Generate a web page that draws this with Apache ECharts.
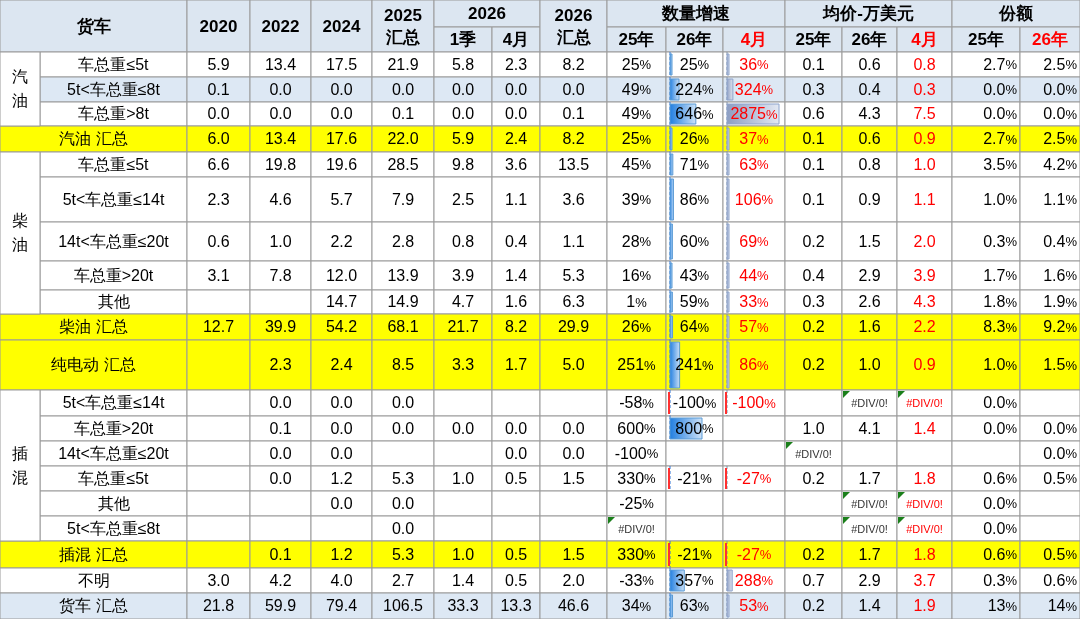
<!DOCTYPE html>
<html><head><meta charset="utf-8">
<script src="https://cdn.jsdelivr.net/npm/echarts@6/dist/echarts.min.js"></script>
<style>html,body{margin:0;padding:0;background:#fff}#c{width:1080px;height:619px}</style>
</head><body><div id="c"></div>
<script>
// ---- data ----
const rowLabels = ['车总重≤5t','5t<车总重≤8t','车总重>8t','汽油 汇总','车总重≤5t','5t<车总重≤14t','14t<车总重≤20t','车总重>20t','其他','柴油 汇总','纯电动 汇总','5t<车总重≤14t','车总重>20t','14t<车总重≤20t','车总重≤5t','其他','5t<车总重≤8t','插混 汇总','不明','货车 汇总'];
const vol2020 = ['5.9','0.1','0.0','6.0','6.6','2.3','0.6','3.1','','12.7','','','','','','','','','3.0','21.8'];
const vol2022 = ['13.4','0.0','0.0','13.4','19.8','4.6','1.0','7.8','','39.9','2.3','0.0','0.1','0.0','0.0','','','0.1','4.2','59.9'];
const vol2024 = ['17.5','0.0','0.0','17.6','19.6','5.7','2.2','12.0','14.7','54.2','2.4','0.0','0.0','0.0','1.2','0.0','','1.2','4.0','79.4'];
const vol2025 = ['21.9','0.0','0.1','22.0','28.5','7.9','2.8','13.9','14.9','68.1','8.5','0.0','0.0','','5.3','0.0','0.0','5.3','2.7','106.5'];
const vol2026Q1 = ['5.8','0.0','0.0','5.9','9.8','2.5','0.8','3.9','4.7','21.7','3.3','','0.0','','1.0','','','1.0','1.4','33.3'];
const vol2026Apr = ['2.3','0.0','0.0','2.4','3.6','1.1','0.4','1.4','1.6','8.2','1.7','','0.0','0.0','0.5','','','0.5','0.5','13.3'];
const vol2026Sum = ['8.2','0.0','0.1','8.2','13.5','3.6','1.1','5.3','6.3','29.9','5.0','','0.0','0.0','1.5','','','1.5','2.0','46.6'];
const growth25 = ['25%','49%','49%','25%','45%','39%','28%','16%','1%','26%','251%','-58%','600%','-100%','330%','-25%','#DIV/0!','330%','-33%','34%'];
const growth26 = ['25%','224%','646%','26%','71%','86%','60%','43%','59%','64%','241%','-100%','800%','','-21%','','','-21%','357%','63%'];
const growthApr = ['36%','324%','2875%','37%','63%','106%','69%','44%','33%','57%','86%','-100%','','','-27%','','','-27%','288%','53%'];
const price25 = ['0.1','0.3','0.6','0.1','0.1','0.1','0.2','0.4','0.3','0.2','0.2','','1.0','#DIV/0!','0.2','','','0.2','0.7','0.2'];
const price26 = ['0.6','0.4','4.3','0.6','0.8','0.9','1.5','2.9','2.6','1.6','1.0','#DIV/0!','4.1','','1.7','#DIV/0!','#DIV/0!','1.7','2.9','1.4'];
const priceApr = ['0.8','0.3','7.5','0.9','1.0','1.1','2.0','3.9','4.3','2.2','0.9','#DIV/0!','1.4','','1.8','#DIV/0!','#DIV/0!','1.8','3.7','1.9'];
const share25 = ['2.7%','0.0%','0.0%','2.7%','3.5%','1.0%','0.3%','1.7%','1.8%','8.3%','1.0%','0.0%','0.0%','','0.6%','0.0%','0.0%','0.6%','0.3%','13%'];
const share26 = ['2.5%','0.0%','0.0%','2.5%','4.2%','1.1%','0.4%','1.6%','1.9%','9.2%','1.5%','','0.0%','0.0%','0.5%','','','0.5%','0.6%','14%'];
const groups = [['汽\n油',0,2],['柴\n油',4,8],['插\n混',11,16]];
const spanRows = [3,9,10,17,18,19];
const yellowRows = [3,9,10,17];
const blueRows = [1,19];
const headTop = [['货车',0,2,0,2],['2020',2,3,0,2],['2022',3,4,0,2],['2024',4,5,0,2],['2025\n汇总',5,6,0,2],['2026',6,8,0,1],['1季',6,7,1,2],['4月',7,8,1,2],['2026\n汇总',8,9,0,2],['数量增速',9,12,0,1],['25年',9,10,1,2],['26年',10,11,1,2],['4月',11,12,1,2,'red'],['均价-万美元',12,15,0,1],['25年',12,13,1,2],['26年',13,14,1,2],['4月',14,15,1,2,'red'],['份额',15,17,0,1],['25年',15,16,1,2],['26年',16,17,1,2,'red']];

// ---- layout ----
const colEdges=[0,40,187,250,311,372,434,492,540,607,666,723,785,842,897,952,1020,1080];
const rowEdges=[0,27,52,77,102,126,152,177,222,261,290,314,340,390,416,441,466,491,516,541,568,593,619];
const valueCols=[vol2020,vol2022,vol2024,vol2025,vol2026Q1,vol2026Apr,vol2026Sum,growth25,growth26,growthApr,price25,price26,priceApr,share25,share26];

const cells=[];
headTop.forEach(h=>cells.push({c0:h[1],c1:h[2],r0:h[3],r1:h[4],text:h[0],bg:'#dce6f1',color:h[5]||'#000',head:true}));
for(let i=0;i<rowLabels.length;i++){
  const r=i+2;
  const bg=yellowRows.includes(i)?'#ffff00':(blueRows.includes(i)?'#dde8f4':'#fff');
  if(spanRows.includes(i)) cells.push({c0:0,c1:2,r0:r,r1:r+1,text:rowLabels[i],bg});
  else cells.push({c0:1,c1:2,r0:r,r1:r+1,text:rowLabels[i],bg});
  valueCols.forEach((arr,k)=>{
    const c=k+2;
    const red=(c===11||c===14);
    cells.push({c0:c,c1:c+1,r0:r,r1:r+1,text:arr[i],bg,color:red?'#ff0000':'#000',
      bar:(c===10||c===11)?parseFloat(arr[i]):null,col:c,right:(c>=15)});
  });
}
groups.forEach(g=>{
  cells.push({c0:0,c1:1,r0:g[1]+2,r1:g[2]+3,text:g[0],bg:'#fff'});
});

function fmt(t,color,size){
  if(t.indexOf('#DIV')===0) return {text:t,font:'11px "Liberation Sans"',fill:color==='#ff0000'?'#ff0000':'#333'};
  if(/%$/.test(t)) return {text:'{n|'+t.slice(0,-1)+'}{p|%}',rich:{n:{fontSize:size,fontFamily:'Liberation Sans',fill:color,color:color},p:{fontSize:size-3,fontFamily:'Liberation Sans',fill:color,color:color}},fill:color};
  return {text:t,font:size+'px "Liberation Sans"',fill:color};
}

const chart=echarts.init(document.getElementById('c'));
chart.setOption({
  animation:false,
  grid:{left:0,right:0,top:0,bottom:0},
  xAxis:{type:'value',min:0,max:1080,show:false},
  yAxis:{type:'value',min:0,max:619,inverse:true,show:false},
  series:[{
    type:'custom',coordinateSystem:'cartesian2d',
    data:cells.map((c,i)=>[colEdges[c.c0],rowEdges[c.r0],colEdges[c.c1],rowEdges[c.r1],i]),
    renderItem:function(params,api){
      const cell=cells[api.value(4)];
      const p0=api.coord([api.value(0),api.value(1)]);
      const p1=api.coord([api.value(2),api.value(3)]);
      const x=p0[0],y=p0[1],w=p1[0]-p0[0],h=p1[1]-p0[1];
      const ch=[{type:'rect',shape:{x:x,y:y,width:w,height:h},style:{fill:cell.bg,stroke:'#9a9a9a',lineWidth:1}}];
      if(cell.bar!=null && !isNaN(cell.bar)){
        const ax=x+4;
        ch.push({type:'line',shape:{x1:ax,y1:y,x2:ax,y2:y+h},style:{stroke:cell.col===10?'#2e75d6':'#7f8fa6',lineDash:[3,2],lineWidth:1}});
        if(cell.bar>0){
          const scale=cell.col===10?0.04:52/2875;
          const bw=Math.max(2,Math.min(w-6,cell.bar*scale));
          const grad=cell.col===10?new echarts.graphic.LinearGradient(0,0,1,0,[{offset:0,color:'#1f7de0'},{offset:1,color:'#cfe3f8'}]):new echarts.graphic.LinearGradient(0,0,1,0,[{offset:0,color:'#8c9dc2'},{offset:1,color:'#e4e9f3'}]);
          ch.push({type:'rect',shape:{x:ax,y:y+2,width:bw,height:h-4},style:{fill:grad,stroke:cell.col===10?'#5b9bd5':'#8ea4cc',lineWidth:1}});
        } else if(cell.bar<0){
          ch.push({type:'rect',shape:{x:ax-2,y:y+2,width:2,height:h-4},style:{fill:'#ff3030'}});
        }
      }
      if(cell.text && cell.text.indexOf('#DIV')===0){
        ch.push({type:'polygon',shape:{points:[[x+1,y+1],[x+8,y+1],[x+1,y+8]]},style:{fill:'#1a7f1a'}});
      }
      if(cell.text){
        const size=cell.head?17:16;
        const s=fmt(cell.text,cell.color||'#000',size);
        if(cell.head) s.font='bold 17px "Liberation Sans"';
        s.textAlign=cell.right?'right':'center';
        s.textVerticalAlign='middle';
        s.align=s.textAlign; s.verticalAlign='middle';
        s.x=cell.right?x+w-3:x+w/2; s.y=y+h/2+1;
        if(cell.text.indexOf('\n')>=0) s.lineHeight=cell.head?22:24;
        ch.push({type:'text',style:s});
      }
      return {type:'group',children:ch};
    }
  }]
});
</script></body></html>
